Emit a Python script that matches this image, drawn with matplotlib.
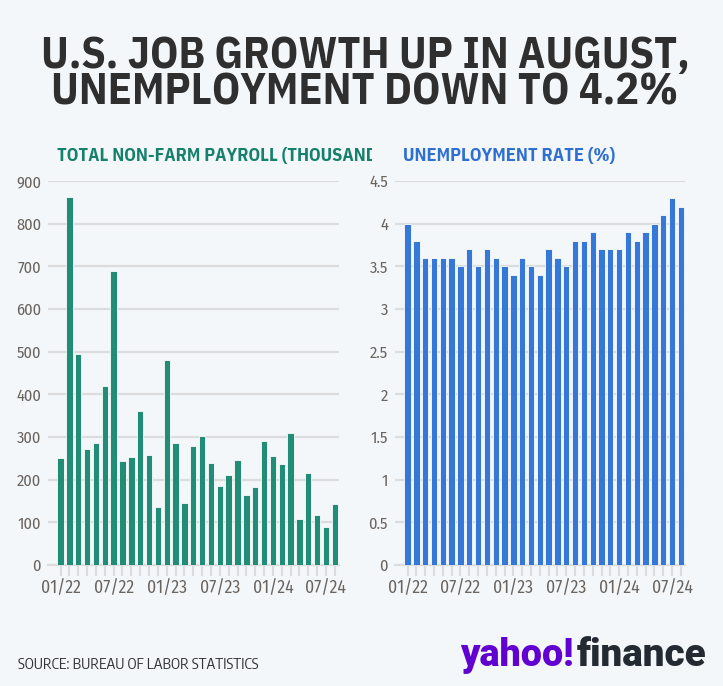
import matplotlib
matplotlib.use("Agg")
import matplotlib.pyplot as plt
from matplotlib import font_manager as fm
from matplotlib.font_manager import FontProperties
from matplotlib.textpath import TextPath
from matplotlib.transforms import Bbox, TransformedBbox
import numpy as np

months = ["01/22","02/22","03/22","04/22","05/22","06/22","07/22","08/22","09/22","10/22","11/22","12/22",
          "01/23","02/23","03/23","04/23","05/23","06/23","07/23","08/23","09/23","10/23","11/23","12/23",
          "01/24","02/24","03/24","04/24","05/24","06/24","07/24","08/24"]
payroll = [250, 862, 494, 271, 285, 420, 690, 243, 254, 360, 257, 136,
           481, 287, 146, 278, 303, 240, 184, 210, 246, 165, 182, 290,
           256, 236, 310, 108, 216, 118, 89, 142]
unemployment = [4.0, 3.8, 3.6, 3.6, 3.6, 3.6, 3.5, 3.7, 3.5, 3.7, 3.6, 3.5,
                3.4, 3.6, 3.5, 3.4, 3.7, 3.6, 3.5, 3.8, 3.8, 3.9, 3.7, 3.7,
                3.7, 3.9, 3.8, 3.9, 4.0, 4.1, 4.3, 4.2]
label_every = 6
payroll_ticks = [0, 100, 200, 300, 400, 500, 600, 700, 800, 900]
unemp_ticks = [0, 0.5, 1, 1.5, 2, 2.5, 3, 3.5, 4, 4.5]
unemp_ticklabels = ["0", "0.5", "1", "1.5", "2", "2.5", "3", "3.5", "4", "4.5"]

weights = {}
for f in fm.fontManager.ttflist:
    if f.style == "normal":
        w = f.weight if isinstance(f.weight, int) else 400
        weights.setdefault(f.name, set()).add(w)

CANDIDATES = ["Roboto Condensed", "Barlow Condensed", "Barlow Semi Condensed", "Archivo Narrow",
              "IBM Plex Sans Condensed", "Fira Sans Condensed", "Fira Sans Extra Condensed", "PT Sans Narrow",
              "Encode Sans Condensed", "Encode Sans Semi Condensed", "Saira SemiCondensed",
              "Saira Condensed", "Open Sans Condensed", "Roboto"]

def choose(text, target_w, target_cap, weight):
    best = None
    for c in CANDIDATES:
        if c not in weights or weight not in weights[c]:
            continue
        fp = FontProperties(family=c, weight=weight)
        w = TextPath((0, 0), text, size=20, prop=fp).get_extents().width
        cap = TextPath((0, 0), "H", size=20, prop=fp).get_extents().height
        score = abs(np.log((w / cap) / (target_w / target_cap)))
        if best is None or score < best[0]:
            best = (score, c)
    return [best[1], "DejaVu Sans"] if best else ["DejaVu Sans"]

TITLE_F = choose("UNEMPLOYMENT DOWN TO 4.2%", 632, 31, 700)
SUB_F = choose("UNEMPLOYMENT RATE (%)", 213, 13, 700)
SRC_F = choose("SOURCE: BUREAU OF LABOR STATISTICS", 214, 10, 400)
TICK_F = choose("01/22", 40, 13, 400)
LOGO = ["Roboto", "DejaVu Sans"] if "Roboto" in weights else ["DejaVu Sans"]

BG = "#f4f7fa"
GREEN = "#1b8a72"
BLUE = "#2f74d6"
TICK = "#6b6560"

W, H = 723, 686
fig = plt.figure(figsize=(W/100, H/100), dpi=100, facecolor=BG)
renderer = fig.canvas.get_renderer()

def fit(t, target):
    w = t.get_window_extent(renderer).width
    t.set_fontsize(t.get_fontsize() * target / w)

def px_axes(x0, y0, x1, y1):
    return fig.add_axes([x0/W, 1 - y1/H, (x1-x0)/W, (y1-y0)/H])

def style(ax, vals, color, ymax, yticks, yticklabels):
    ax.set_facecolor(BG)
    x = np.arange(len(vals))
    ax.bar(x, vals, width=0.72, color=color, edgecolor="#ffffff", linewidth=0.6, alpha=0.97, zorder=3)
    ax.set_ylim(0, ymax)
    ax.set_xlim(-1.42, len(vals) - 0.53)
    ax.set_yticks(yticks)
    ax.set_yticklabels(yticklabels, family=TICK_F, fontweight="normal", fontsize=12, color=TICK)
    ax.yaxis.grid(True, color="#dcdcdc", linewidth=1.6, zorder=0)
    ax.tick_params(axis="y", length=0, pad=5)
    ax.set_xticks(x)
    ax.set_xticklabels([m if i % label_every == 0 else "" for i, m in enumerate(months)],
                       family=TICK_F, fontweight="normal", fontsize=14, color=TICK)
    ax.tick_params(axis="x", length=8, width=1.5, color="#dcdcdc", pad=2)
    for s in ["top", "right", "left"]:
        ax.spines[s].set_visible(False)
    ax.spines["bottom"].set_color("#dcdcdc")
    ax.spines["bottom"].set_linewidth(1.6)

ax1 = px_axes(48, 181, 339, 565)
style(ax1, payroll, GREEN, 900, payroll_ticks, [str(t) for t in payroll_ticks])
ax2 = px_axes(395, 181, 685, 565)
style(ax2, unemployment, BLUE, 4.5, unemp_ticks, unemp_ticklabels)

title = fig.text(365/W, 1 - 74/H, "U.S. JOB GROWTH UP IN AUGUST,\nUNEMPLOYMENT DOWN TO 4.2%",
                 ha="center", va="center", multialignment="center", linespacing=0.84,
                 family=TITLE_F, fontweight="bold", fontsize=30, color="#2f2f2f")
fit(title, 648)

tb = fig.text(403/W, 1 - 156/H, "UNEMPLOYMENT RATE (%)", ha="left", va="center",
              family=SUB_F, fontweight="bold", fontsize=13.5, color="#2f6fd1")
fit(tb, 213)
t1 = fig.text(57/W, 1 - 156/H, "TOTAL NON-FARM PAYROLL (THOUSANDS)", ha="left", va="center",
              family=SUB_F, fontweight="bold", fontsize=tb.get_fontsize(), color="#15806b")
t1.set_clip_box(TransformedBbox(Bbox([[0, 0], [372/W, 1]]), fig.transFigure))
t1.set_clip_on(True)

ts = fig.text(18/W, 1 - 665/H, "SOURCE: BUREAU OF LABOR STATISTICS", ha="left", va="center",
              family=SRC_F, fontsize=11.5, color="#333333")
fit(ts, 240)

ty = fig.text(460/W, 1 - 656/H, "yahoo!", ha="left", va="center",
              family=LOGO, fontweight="black", fontsize=26, color="#6001d2")
tf = fig.text(577/W, 1 - 656/H, "finance", ha="left", va="center",
              family=LOGO, fontweight="black", fontsize=26, color="#232a31")
fit(ty, 114)
fit(tf, 130)

fig.canvas.draw()
lab = [l for l in ax1.get_xticklabels() if l.get_text()][0]
xs = 14 * 40 / lab.get_window_extent(renderer).width
ylab = [l for l in ax1.get_yticklabels() if l.get_text() == "900"][0]
ys = 12 * 25 / ylab.get_window_extent(renderer).width
for ax in (ax1, ax2):
    for l in ax.get_xticklabels():
        l.set_fontsize(xs)
    for l in ax.get_yticklabels():
        l.set_fontsize(ys)

fig.savefig("out.png", dpi=100, facecolor=BG)
